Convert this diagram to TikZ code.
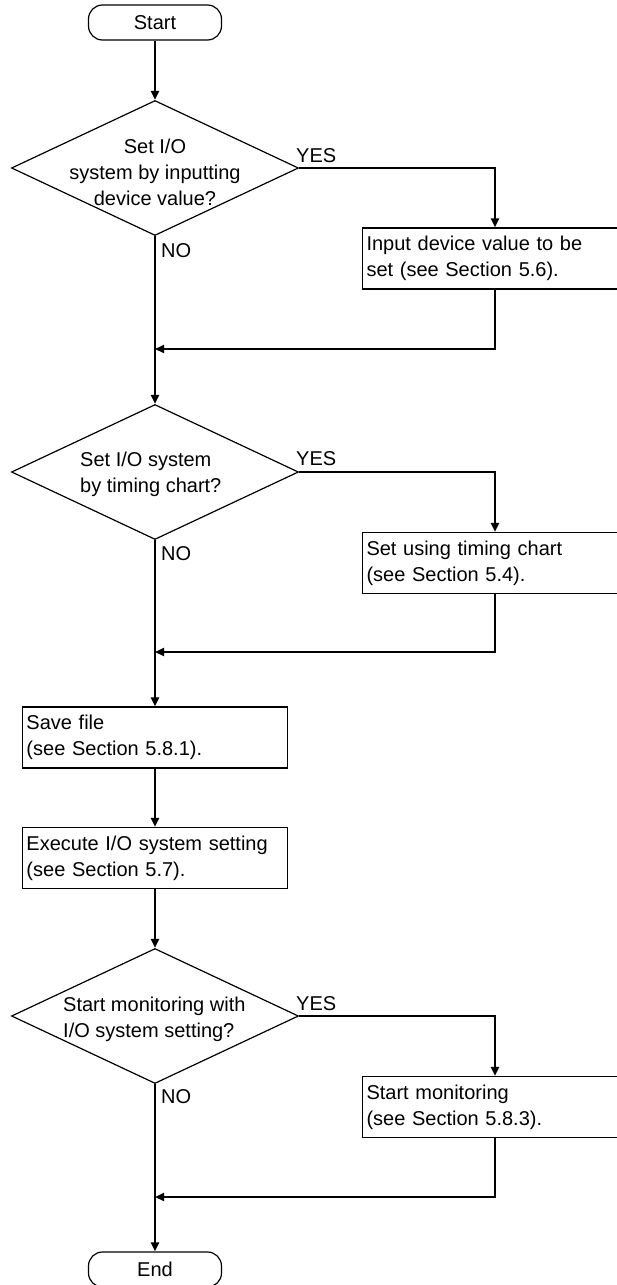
\documentclass[tikz,border=0pt]{standalone}
\usepackage{fontspec}
\setmainfont{Liberation Sans}
\usetikzlibrary{arrows.meta,shapes.geometric,positioning,calc}

\tikzset{
  every node/.style={font=\fontsize{20}{26}\selectfont},
  term/.style={draw,line width=1.2pt,rounded corners=14pt,
               minimum width=133pt,minimum height=35pt,inner sep=0pt},
  decision/.style={draw,diamond,line width=1.2pt,
                   minimum width=287pt,minimum height=135pt,inner sep=0pt},
  qtext/.style={inner sep=0pt},
  procbox/.style={draw,line width=1.2pt,minimum width=265pt,minimum height=61pt,
                  text width=257pt,inner xsep=4pt,align=left},
  flow/.style={line width=2pt,-{Triangle[length=9pt,width=8pt]}},
  yesno/.style={inner sep=0pt,anchor=base west}
}

\begin{document}
\begin{tikzpicture}[x=1pt,y=-1pt]

    \useasboundingbox (0,0) rectangle (617,1285);

    % ── START ─────────────────────────────────────────────
    \node[term] (start) at (155,22.5) {Start};

    % ── DECISION 1: DEVICE VALUE ──────────────────────────
    \node[decision] (d1) at (155,168) {};
    \node[qtext,align=center] (d1txt) at (155,172) {
      Set I/O\\system by inputting\\device value?
    };
    \node[yesno] (d1yes) at (296,162) {YES};
    \node[yesno] (d1no)  at (161,257) {NO};

    \node[procbox] (b1) at (495,258.5) {
      Input device value to be\\set (see Section 5.6).
    };
    \coordinate (j1) at (155,349);

    % ── DECISION 2: TIMING CHART ──────────────────────────
    \node[decision] (d2) at (155,472) {};
    \node[qtext,align=left,anchor=west] (d2txt) at (80,474) {
      Set I/O system\\by timing chart?
    };
    \node[yesno] (d2yes) at (296,465) {YES};
    \node[yesno] (d2no)  at (161,560) {NO};

    \node[procbox] (b2) at (495,563) {
      Set using timing chart\\(see Section 5.4).
    };
    \coordinate (j2) at (155,652);

    % ── SAVE / EXECUTE ────────────────────────────────────
    \node[procbox] (save) at (155,737.5) {
      Save file\\(see Section 5.8.1).
    };
    \node[procbox] (exec) at (155,858) {
      Execute I/O system setting\\(see Section 5.7).
    };

    % ── DECISION 3: MONITORING ────────────────────────────
    \node[decision] (d3) at (155,1016) {};
    \node[qtext,align=left,anchor=west] (d3txt) at (63,1019) {
      Start monitoring with\\I/O system setting?
    };
    \node[yesno] (d3yes) at (296,1010) {YES};
    \node[yesno] (d3no)  at (161,1103) {NO};

    \node[procbox] (b3) at (495,1107) {
      Start monitoring\\(see Section 5.8.3).
    };
    \coordinate (j3) at (155,1197);

    % ── END ───────────────────────────────────────────────
    \node[term] (end) at (155,1269.5) {End};

    % ── CONNECTORS ────────────────────────────────────────
    \draw[flow] (start) -- (d1);
    \draw[flow] (d1.east) -| (b1.north);
    \draw[flow] (b1.south) |- (j1);
    \draw[flow] (d1.south) -- (d2.north);

    \draw[flow] (d2.east) -| (b2.north);
    \draw[flow] (b2.south) |- (j2);
    \draw[flow] (d2.south) -- (save.north);

    \draw[flow] (save) -- (exec);
    \draw[flow] (exec) -- (d3);

    \draw[flow] (d3.east) -| (b3.north);
    \draw[flow] (b3.south) |- (j3);
    \draw[flow] (d3.south) -- (end.north);

\end{tikzpicture}
\end{document}
